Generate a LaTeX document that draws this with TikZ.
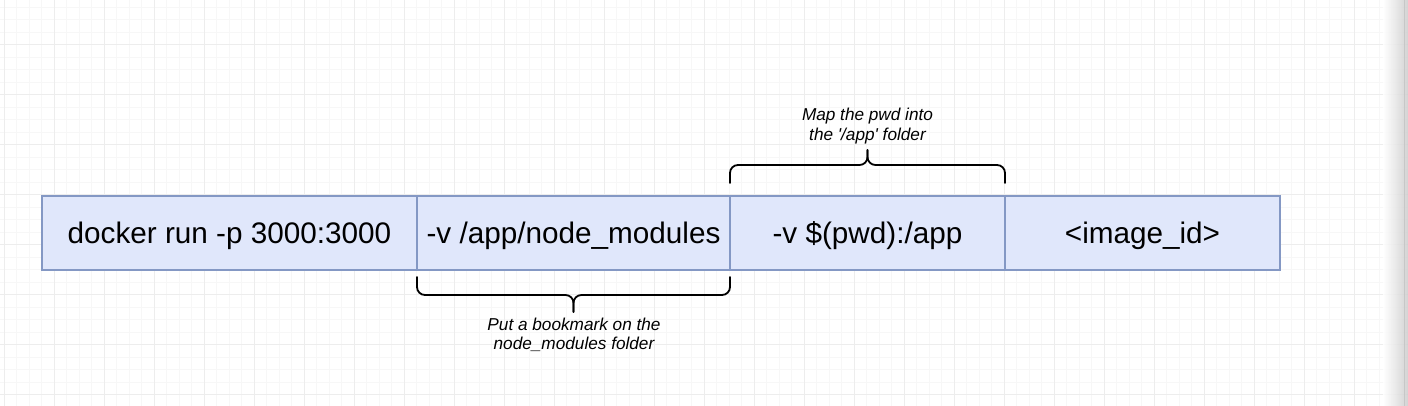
\documentclass[tikz,border=0pt]{standalone}
\usepackage{fontspec}
\setmainfont{Liberation Sans}
\newfontfamily\notefont{Liberation Sans}[Ligatures=TeXOff]
\usetikzlibrary{calc}
\definecolor{boxfill}{RGB}{224,231,251}
\definecolor{boxline}{RGB}{132,152,196}
\definecolor{gridminor}{RGB}{247,247,247}
\definecolor{gridmajor}{RGB}{237,237,237}
\begin{document}
\begin{tikzpicture}[x=1pt,y=1pt,
  cmd/.style={draw=boxline,fill=boxfill,line width=2pt,minimum height=74pt,inner sep=0pt,outer sep=0pt,
    text height=20.8pt,text depth=0pt,font=\fontsize{29.7}{34}\selectfont},
  note/.style={align=center,font=\notefont\fontsize{17.2}{19.5}\selectfont\itshape,inner sep=0pt},
  bracestyle/.style={line width=1.8pt,line cap=round,line join=round},
  minorline/.style={gridminor,line width=0.8pt},
  majorline/.style={gridmajor,line width=1pt}]
\useasboundingbox (0,0) rectangle (1408,406);
\fill[white] (0,0) rectangle (1408,406);
% grid
\foreach \i in {0,...,113} \draw[minorline] ({4.3+12.5*\i},0) -- ++(0,406);
\foreach \k in {0,...,32} \draw[minorline] (0,{398.7-12.5*\k}) -- ++(1408,0);
\foreach \i in {0,...,28} \draw[majorline] ({4.3+50*\i},0) -- ++(0,406);
\foreach \k in {0,...,7} \draw[majorline] (0,{11+50*\k}) -- ++(1408,0);
% right edge shading
\shade[left color=white,right color=black!20,fill opacity=0.85] (1383,0) rectangle (1408,406);
\draw[black!22,line width=0.8pt] (1404,0) -- (1404,406);
% command boxes
\node[cmd,minimum width=375pt] (a) at (229.5,173) {docker run -p 3000:3000};
\node[cmd,minimum width=313pt] (b) at (573.5,173) {-v /app/node\_modules};
\node[cmd,minimum width=275pt] (c) at (867.5,173) {-v \$(pwd):/app};
\node[cmd,minimum width=275pt] (d) at (1142.5,173) {<image\_id>};
% top brace over c
\draw[bracestyle] ($(c.north west)+(0,13)$) -- ++(0,10) arc[start angle=180,end angle=90,radius=8]
  -- ($(c.north)+(-8,31)$) arc[start angle=270,end angle=360,radius=8] -- ++(0,7);
\draw[bracestyle] ($(c.north east)+(0,13)$) -- ++(0,10) arc[start angle=0,end angle=90,radius=8]
  -- ($(c.north)+(8,31)$) arc[start angle=270,end angle=180,radius=8] -- ++(0,7);
% bottom brace under b
\draw[bracestyle] ($(b.south west)+(0,-7)$) -- ++(0,-10) arc[start angle=180,end angle=270,radius=8]
  -- ($(b.south)+(-8,-25)$) arc[start angle=90,end angle=0,radius=8] -- ++(0,-9);
\draw[bracestyle] ($(b.south east)+(0,-7)$) -- ++(0,-10) arc[start angle=0,end angle=-90,radius=8]
  -- ($(b.south)+(8,-25)$) arc[start angle=90,end angle=180,radius=8] -- ++(0,-9);
% labels
\node[note] (tl) at (867.5,280) {Map the pwd into\\the '/app' folder};
\node[note] (bl) at (574,71) {Put a bookmark on the\\node\_modules folder};
\end{tikzpicture}
\end{document}
